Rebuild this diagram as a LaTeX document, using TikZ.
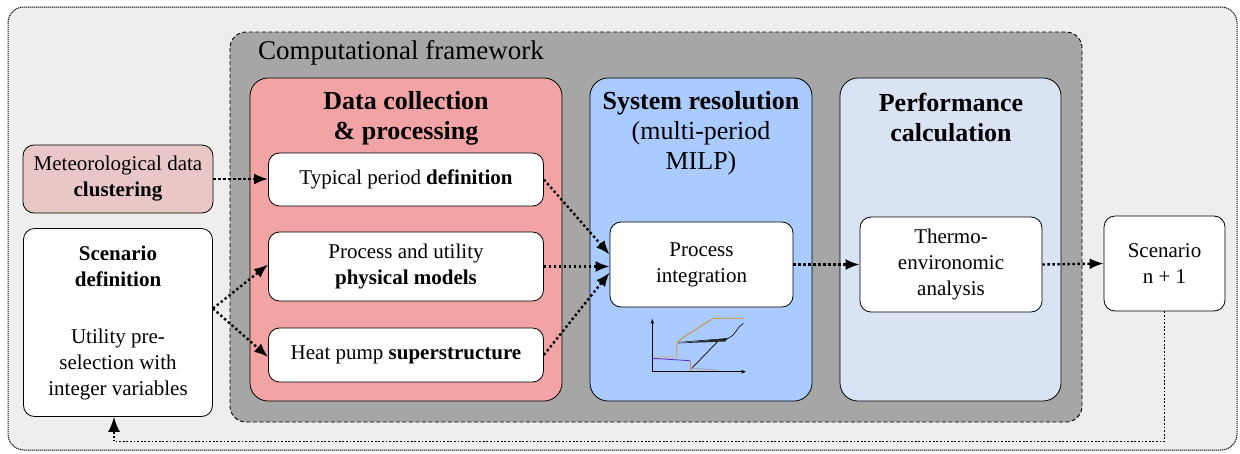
\documentclass[tikz,border=0pt]{standalone}
\usepackage{fontspec}
\setmainfont{Liberation Serif}
\usetikzlibrary{arrows.meta,calc}

\definecolor{outerbg}{HTML}{EEEEEE}
\definecolor{framebg}{HTML}{A6A6A6}
\definecolor{datared}{HTML}{F2A3A3}
\definecolor{solveblue}{HTML}{A9CBFF}
\definecolor{perfblue}{HTML}{D9E3F3}
\definecolor{meteopink}{HTML}{EAC7C7}
\definecolor{curveorange}{HTML}{D08A2A}
\definecolor{curvepurple}{HTML}{5A2AD8}
\definecolor{shadegray}{HTML}{9AA6B8}

\newcommand{\diagbody}{\fontsize{21}{26}\selectfont}
\newcommand{\diaghead}{\fontsize{26}{30}\selectfont}

\begin{document}
\begin{tikzpicture}[x=1pt,y=-1pt,
  panel/.style={draw, line width=0.8pt, rounded corners=18pt, inner sep=0pt},
  wbox/.style={draw, fill=white, line width=0.8pt, rounded corners=11pt,
    align=center, inner sep=0pt, font=\diagbody},
  headtext/.style={align=center, inner sep=0pt, font=\diaghead},
  flow/.style={line width=2.4pt, dash pattern=on 2.4pt off 2.6pt,
    -{Latex[length=14pt,width=11pt]}},
  loopback/.style={line width=1.8pt, dash pattern=on 1.8pt off 1.8pt,
    -{Latex[length=15pt,width=12pt]}}
]
\useasboundingbox (0,0) rectangle (1240,453);

% outer frame and computational framework
\draw[fill=outerbg, line width=1pt, dash pattern=on 1.2pt off 0.8pt, rounded corners=16pt]
  (8,7) rectangle (1237,450);
\draw[fill=framebg, line width=0.9pt, dash pattern=on 4pt off 2.5pt, rounded corners=16pt]
  (230,32) rectangle (1082,422);
\node[anchor=west, inner sep=0pt, font=\fontsize{27}{30}\selectfont] (cftitle) at (258,53) {Computational framework};

% three stage panels
\node[panel, fill=datared, minimum width=312pt, minimum height=323pt] (pdata) at (406,239.5) {};
\node[panel, fill=solveblue, minimum width=222pt, minimum height=323pt] (psolve) at (701,239.5) {};
\node[panel, fill=perfblue, minimum width=221pt, minimum height=323pt] (pperf) at (950.5,239.5) {};

\node[headtext] (hdata) at (406,118) {\textbf{Data collection}\\\textbf{\& processing}};
\node[headtext] (hsolve) at (701,133) {\textbf{System resolution}\\(multi-period\\MILP)};
\node[headtext] (hperf) at (951,118) {\textbf{Performance}\\\textbf{calculation}};

% inputs on the left
\node[wbox, fill=meteopink, minimum width=190pt, minimum height=68pt] (meteo) at (118,179)
  {Meteorological data\\\textbf{clustering}};
\node[wbox, minimum width=189pt, minimum height=188pt] (sdef) at (118,322.5)
  {\textbf{Scenario}\\\textbf{definition}\\[31pt]Utility pre-\\selection with\\integer variables};

% data collection boxes
\node[wbox, minimum width=275pt, minimum height=53pt] (tp) at (406,179.5) {Typical period \textbf{definition}};
\node[wbox, minimum width=275pt, minimum height=69pt] (pu) at (406,266.5) {Process and utility\\\textbf{physical models}};
\node[wbox, minimum width=275pt, minimum height=54pt] (hp) at (406,355) {Heat pump \textbf{superstructure}};

% resolution, analysis, next scenario
\node[wbox, minimum width=183pt, minimum height=85pt] (pint) at (701.5,264.5) {Process\\integration};
\node[wbox, minimum width=182pt, minimum height=95pt] (thermo) at (951,264.5) {Thermo-\\environomic\\analysis};
\node[wbox, minimum width=121pt, minimum height=95pt] (scen) at (1164.5,263.5) {Scenario\\n + 1};

% connectors
\draw[flow] (meteo.east) -- (meteo.east -| tp.west);
\draw[flow] ([yshift=14pt]sdef.east) -- ([yshift=2pt]pu.west);
\draw[flow] ([yshift=14pt]sdef.east) -- ([yshift=-2pt]hp.west);
\draw[flow] (tp.east) -- ([yshift=10pt]pint.west);
\draw[flow] (pu.east) -- (pu.east -| pint.west);
\draw[flow] (hp.east) -- ([yshift=-8pt]pint.west);
\draw[flow] (pint.east) -- (thermo.west);
\draw[flow] (thermo.east) -- (scen.west);
\coordinate (fbrow) at (0,441.5);
\coordinate (fbend) at ([xshift=-4pt]sdef.south);
\draw[loopback] (scen.south) -- (scen.south |- fbrow) -- (fbend |- fbrow) -- (fbend);

% small composite-curve sketch under the integration box
\fill[shadegray!70] (652.5,356) rectangle (676.7,358.5);
\fill[shadegray!70] (691.7,369.5) rectangle (716.7,371.7);
\fill[black!85] (678.3,343.3) -- (728.3,338.3) -- (725,341.5) -- cycle;
\draw[black, line width=0.5pt] (679,342.3) -- (728.3,338.3);
\draw[black, line width=0.6pt] (728.3,338.3) .. controls (735,336) and (737,327) .. (743.3,323.3);
\draw[black, line width=0.7pt] (717.7,341.5) -- (691.7,368.3);
\draw[shadegray, line width=0.8pt] (691.7,368.3) -- (716.7,370);
\draw[curvepurple, line width=0.8pt] (652.3,358.3) -- (690,360.7);
\draw[curveorange, line width=0.8pt] (690,371.5) -- (690,360.7);
\draw[curveorange, line width=0.8pt] (676.7,356.7) -- (676.7,343.3) -- (681.7,338.3) -- (713.3,318.3) -- (743.3,318.3);
\draw[line width=0.7pt, -{Stealth[length=5pt,width=3.5pt]}] (652.3,371.7) -- (652.3,319);
\draw[line width=0.7pt, -{Stealth[length=5pt,width=3.5pt]}] (652.3,371.7) -- (746,371.7);
\end{tikzpicture}
\end{document}
